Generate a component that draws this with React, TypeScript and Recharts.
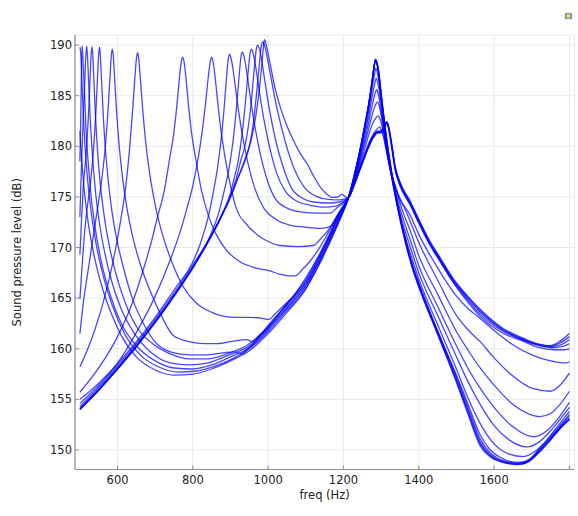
import React from 'react';
import { LineChart, Line, XAxis, YAxis, CartesianGrid } from 'recharts';

const xTicks = [600, 800, 1000, 1200, 1400, 1600, 1800];
const yTicks = [150, 155, 160, 165, 170, 175, 180, 185, 190];
const xDomain = [487, 1813];
const yDomain = [148.07, 191];

const c01 = [[500,181.5],[502,180.2],[505,178.6],[510,176.3],[520,173.0],[535,169.7],[555,166.6],[580,163.8],[610,161.3],[650,159.2],[700,157.9],[750,157.4],[800,157.5],[850,158.0],[900,158.8],[950,159.8],[1000,161.5],[1050,163.6],[1100,165.9],[1130,167.9],[1160,170.2],[1190,172.7],[1213,174.9],[1230,177.2],[1244,179.5],[1256,181.8],[1266,183.8],[1275,186.0],[1281,187.7],[1285,188.5],[1289,188.1],[1294,186.9],[1300,184.9],[1310,181.7],[1320,179.0],[1335,175.6],[1350,172.8],[1365,170.4],[1385,167.7],[1400,166.1],[1450,161.4],[1500,156.7],[1530,153.6],[1563,150.4],[1590,149.3],[1620,148.8],[1645,148.6],[1663,148.55],[1690,148.8],[1720,149.8],[1750,151.0],[1775,152.1],[1800,153.0]];
const c02 = [[500,189.8],[502,189.3],[505,186.9],[508,184.1],[512,181.1],[518,177.8],[528,174.1],[540,171.0],[560,167.5],[585,164.4],[620,161.4],[660,159.4],[710,158.2],[760,157.7],[810,157.8],[860,158.3],[910,159.1],[950,160.0],[1000,161.7],[1050,163.8],[1100,166.0],[1130,168.0],[1160,170.3],[1190,172.8],[1213,174.9],[1230,177.25],[1244,179.55],[1256,181.85],[1266,183.85],[1275,186.05],[1281,187.75],[1285,188.55],[1289,188.15],[1294,187.0],[1300,185.0],[1310,181.8],[1320,179.1],[1335,175.7],[1350,172.9],[1365,170.5],[1385,167.8],[1400,166.2],[1450,161.5],[1500,156.8],[1530,153.8],[1563,150.6],[1590,149.4],[1620,148.85],[1645,148.65],[1664,148.6],[1690,148.85],[1720,149.8],[1750,151.0],[1775,152.1],[1800,153.0]];
const c03 = [[500,178.5],[502,182.3],[504,186.8],[505.5,189.9],[507,189.4],[509,188.0],[512,185.6],[516,181.9],[522,178.4],[530,175.0],[542,171.6],[558,168.4],[580,165.4],[610,162.5],[650,160.3],[700,158.8],[750,158.1],[800,158.0],[850,158.4],[900,159.2],[950,160.1],[1000,161.9],[1050,164.0],[1100,166.2],[1130,168.2],[1160,170.5],[1190,172.9],[1213,174.9],[1230,177.3],[1244,179.6],[1256,181.9],[1266,183.9],[1275,186.1],[1281,187.8],[1285,188.6],[1289,188.2],[1294,187.1],[1300,185.1],[1310,181.9],[1320,179.2],[1335,175.8],[1350,173.0],[1365,170.6],[1385,167.9],[1400,166.3],[1450,161.6],[1500,157.0],[1530,154.0],[1563,150.8],[1590,149.5],[1620,148.9],[1645,148.7],[1665,148.65],[1690,148.9],[1720,149.9],[1750,151.1],[1775,152.2],[1800,153.1]];
const c04 = [[500,173.0],[503,176.8],[506,180.0],[509,183.1],[513,186.5],[516,189.1],[518,189.9],[520,189.1],[523,186.5],[527,183.1],[533,179.3],[541,175.7],[552,172.4],[566,169.5],[585,166.6],[610,163.9],[645,161.5],[690,159.6],[740,158.6],[790,158.4],[840,158.6],[890,159.3],[950,160.3],[1000,162.0],[1050,164.1],[1100,166.3],[1130,168.3],[1160,170.6],[1190,173.0],[1213,174.9],[1230,177.35],[1244,179.65],[1256,181.95],[1266,183.95],[1275,186.15],[1281,187.85],[1285,188.6],[1289,188.25],[1294,187.2],[1300,185.2],[1310,182.0],[1320,179.3],[1335,175.9],[1350,173.1],[1365,170.7],[1385,168.0],[1400,166.4],[1450,161.7],[1500,157.2],[1530,154.3],[1563,151.1],[1590,149.7],[1620,149.0],[1645,148.75],[1667,148.7],[1690,148.95],[1720,150.0],[1750,151.2],[1775,152.3],[1800,153.3]];
const c05 = [[500,169.3],[504,172.5],[509,176.0],[517,179.5],[523,183.3],[527,186.65],[530,189.15],[532,189.85],[534,189.15],[537,186.65],[541,183.3],[547,179.5],[555,176.0],[565,173.0],[578,170.2],[595,167.5],[620,164.6],[650,162.2],[690,160.6],[740,159.5],[790,159.0],[840,159.0],[890,159.5],[950,160.5],[1000,162.2],[1050,164.3],[1100,166.5],[1130,168.5],[1160,170.8],[1190,173.2],[1213,174.9],[1230,177.4],[1244,179.7],[1256,182.0],[1266,184.0],[1275,186.2],[1281,187.85],[1285,188.6],[1289,188.3],[1294,187.3],[1300,185.3],[1310,182.1],[1320,179.4],[1335,176.0],[1350,173.2],[1365,170.8],[1385,168.1],[1400,166.5],[1450,161.8],[1500,157.4],[1530,154.6],[1563,151.5],[1590,150.0],[1620,149.2],[1645,148.85],[1670,148.8],[1695,149.1],[1720,150.1],[1750,151.3],[1775,152.4],[1800,153.5]];
const c06 = [[500,164.9],[506,168.2],[512,171.3],[519,173.8],[529,176.7],[537,180.1],[543,183.8],[547,187.0],[550,189.2],[552,189.8],[554,189.2],[557,187.0],[561,183.8],[567,180.1],[575,176.7],[585,173.6],[598,170.8],[615,168.1],[640,164.9],[670,162.4],[704,160.5],[750,159.6],[792,159.4],[840,159.4],[881,159.6],[910,159.7],[930,159.5],[945,160.0],[970,160.9],[1000,162.3],[1050,164.4],[1100,166.6],[1130,168.6],[1160,170.9],[1190,173.3],[1213,174.9],[1230,177.0],[1244,179.2],[1256,181.4],[1266,183.3],[1275,185.4],[1282,187.0],[1286,187.7],[1290,187.3],[1296,185.8],[1303,183.6],[1312,180.8],[1322,178.2],[1337,175.2],[1352,172.6],[1377,169.5],[1400,166.9],[1450,162.4],[1500,158.0],[1530,155.2],[1563,152.6],[1600,150.6],[1640,149.6],[1678,149.35],[1710,149.9],[1740,151.0],[1770,152.4],[1800,153.8]];
const c07 = [[500,161.5],[510,164.8],[520,167.3],[535,171.0],[547,173.9],[559,177.0],[568,180.2],[575,183.7],[580,186.9],[583.5,189.0],[586,189.6],[588.5,189.0],[592,186.9],[597,183.7],[604,180.2],[613,177.0],[625,173.9],[640,171.1],[660,168.4],[690,165.4],[720,163.0],[748,161.3],[790,160.7],[830,160.5],[863,160.5],[900,160.7],[943,160.9],[957,160.7],[975,161.2],[1000,162.1],[1050,164.5],[1100,166.8],[1130,168.8],[1160,171.0],[1190,173.4],[1213,174.9],[1230,176.9],[1244,179.0],[1256,181.0],[1266,182.8],[1275,184.7],[1282,186.0],[1287,186.7],[1291,186.3],[1297,184.9],[1305,182.6],[1314,180.0],[1325,177.6],[1340,174.9],[1355,172.7],[1377,170.1],[1400,167.5],[1450,163.3],[1500,159.2],[1530,156.8],[1563,154.5],[1600,152.4],[1640,151.0],[1687,150.3],[1720,150.8],[1750,151.9],[1775,153.0],[1800,154.2]];
const c08 = [[500,158.2],[520,159.9],[540,161.9],[565,165.0],[585,168.1],[600,170.9],[611,173.3],[622,176.1],[632,179.8],[640,183.5],[646,186.8],[650,188.6],[653,189.25],[656,188.75],[660,187.0],[666,184.0],[674,180.7],[685,177.4],[700,174.2],[720,171.2],[745,168.5],[775,166.1],[810,164.5],[850,163.6],[872,163.3],[910,163.1],[952,163.1],[985,163.0],[1001,162.9],[1020,163.5],[1045,164.4],[1067,165.2],[1100,167.0],[1130,168.9],[1160,171.1],[1190,173.4],[1213,174.9],[1230,176.8],[1244,178.8],[1256,180.6],[1266,182.2],[1276,184.0],[1283,185.1],[1288,185.6],[1292,185.2],[1298,184.0],[1306,181.9],[1315,179.6],[1327,177.2],[1342,174.9],[1357,173.0],[1377,170.8],[1400,168.2],[1450,164.2],[1500,160.3],[1530,158.1],[1563,156.1],[1600,154.2],[1650,152.3],[1705,151.3],[1740,151.9],[1770,153.1],[1800,154.7]];
const c09 = [[500,155.7],[550,158.1],[600,161.2],[640,164.6],[670,168.0],[690,170.6],[706,173.0],[724,175.6],[738,178.7],[749,181.2],[758,184.2],[765,187.0],[770,188.5],[773,188.8],[776,188.5],[781,187.0],[788,184.2],[797,181.2],[808,178.7],[822,175.8],[840,173.3],[862,171.3],[890,169.7],[925,168.6],[965,168.0],[1005,167.7],[1032,167.35],[1055,167.2],[1072,167.2],[1090,167.8],[1110,168.6],[1135,169.9],[1160,171.5],[1190,173.5],[1213,174.9],[1230,176.7],[1244,178.5],[1256,180.2],[1266,181.6],[1277,183.2],[1285,184.1],[1290,184.4],[1294,184.1],[1300,183.1],[1308,181.3],[1318,179.0],[1330,177.0],[1345,175.0],[1360,173.3],[1377,171.7],[1400,169.2],[1450,165.4],[1500,161.7],[1530,159.9],[1563,158.1],[1600,156.4],[1650,154.5],[1690,153.6],[1722,153.3],[1750,153.6],[1775,154.5],[1800,155.8]];
const c10 = [[500,155.0],[550,156.6],[600,158.6],[650,161.6],[700,165.2],[740,168.8],[765,171.4],[783,173.7],[801,176.3],[815,179.0],[826,181.8],[835,184.7],[842,187.2],[847,188.5],[850,188.8],[853,188.5],[858,187.2],[865,184.7],[874,181.8],[885,179.0],[899,176.3],[917,173.7],[940,172.4],[970,171.3],[1000,170.6],[1032,170.2],[1080,170.1],[1120,170.2],[1140,170.9],[1165,172.0],[1190,173.6],[1213,174.9],[1230,176.5],[1244,178.2],[1256,179.7],[1266,181.0],[1277,182.2],[1286,182.8],[1292,183.0],[1297,182.7],[1303,181.9],[1311,180.3],[1321,178.4],[1333,176.6],[1348,174.9],[1362,173.9],[1377,172.6],[1400,170.5],[1450,166.8],[1500,163.3],[1530,161.9],[1563,160.7],[1600,159.1],[1650,157.3],[1700,156.1],[1749,155.8],[1775,156.4],[1800,157.6]];
const c11 = [[500,154.6],[550,156.4],[600,158.5],[650,160.7],[700,163.1],[750,165.8],[800,168.6],[820,170.4],[840,172.9],[855,175.6],[866,178.0],[874,180.3],[882,183.3],[889,186.6],[894,188.6],[897,189.1],[900,188.9],[905,188.0],[912,186.1],[921,183.6],[932,181.0],[946,178.4],[964,175.9],[990,173.8],[1020,172.8],[1060,172.2],[1103,172.0],[1140,171.9],[1165,172.1],[1185,173.2],[1200,174.1],[1213,174.9],[1230,176.4],[1244,177.9],[1256,179.2],[1267,180.3],[1279,181.2],[1289,181.7],[1296,181.9],[1301,181.6],[1307,180.8],[1315,179.3],[1325,177.6],[1337,176.1],[1352,174.7],[1377,173.2],[1400,171.3],[1450,168.0],[1500,165.2],[1530,164.0],[1563,163.0],[1600,161.8],[1650,160.4],[1700,159.4],[1750,158.8],[1790,158.6],[1800,158.7]];
const c12 = [[500,154.3],[550,156.2],[600,158.3],[650,160.5],[700,162.9],[750,165.5],[800,168.3],[850,171.5],[870,173.6],[882,175.4],[896,177.8],[907,180.6],[916,183.9],[923,187.0],[928,188.9],[931,189.3],[934,189.15],[939,188.3],[946,186.6],[955,184.2],[966,181.7],[980,179.1],[998,176.6],[1021,174.7],[1050,173.9],[1090,173.5],[1130,173.4],[1165,173.4],[1185,174.0],[1200,174.4],[1213,174.9],[1230,176.3],[1244,177.7],[1256,178.9],[1268,180.0],[1280,180.9],[1290,181.3],[1297,181.3],[1304,181.5],[1310,182.0],[1315,182.2],[1320,181.7],[1328,179.9],[1337,177.7],[1350,176.1],[1377,174.2],[1400,172.4],[1430,170.2],[1450,169.0],[1492,166.5],[1530,164.6],[1563,163.2],[1620,161.6],[1680,160.7],[1720,160.1],[1760,159.9],[1785,159.9],[1800,160.0]];
const c13 = [[500,154.1],[550,156.0],[600,158.1],[650,160.3],[700,162.7],[750,165.3],[800,168.1],[850,171.3],[880,173.5],[900,175.4],[910,176.9],[920,178.5],[931,181.3],[940,184.5],[947,187.4],[952,189.2],[955,189.6],[958,189.45],[963,188.7],[970,187.1],[979,184.85],[990,182.4],[1004,179.9],[1022,177.4],[1045,175.6],[1075,174.6],[1110,174.2],[1150,174.0],[1180,174.1],[1200,174.5],[1213,174.9],[1230,176.35],[1244,177.75],[1256,178.95],[1268,180.05],[1280,180.95],[1290,181.35],[1297,181.35],[1304,181.55],[1310,182.1],[1315,182.3],[1320,181.8],[1328,180.0],[1337,177.8],[1350,176.2],[1377,174.3],[1400,172.5],[1430,170.3],[1450,169.1],[1492,166.6],[1530,164.8],[1563,163.4],[1620,161.8],[1680,160.8],[1720,160.3],[1755,160.1],[1780,160.2],[1800,160.5]];
const c14 = [[500,154.05],[550,155.95],[600,158.05],[650,160.25],[700,162.65],[750,165.25],[800,168.05],[850,171.25],[880,173.4],[900,175.1],[915,176.8],[928,178.7],[938,180.0],[947.5,182.0],[956.5,184.9],[963.5,187.85],[968.5,189.6],[971.5,190.0],[974.5,189.87],[979.5,189.2],[986.5,187.6],[995.5,185.4],[1006.5,183.0],[1020.5,180.5],[1038.5,178.1],[1061.5,175.9],[1090,174.9],[1120,174.5],[1160,174.4],[1190,174.5],[1213,174.9],[1230,176.4],[1244,177.8],[1256,179.0],[1268,180.1],[1280,181.0],[1290,181.4],[1297,181.4],[1304,181.6],[1310,182.15],[1315,182.35],[1320,181.85],[1328,180.1],[1337,177.9],[1350,176.3],[1377,174.4],[1400,172.6],[1430,170.4],[1450,169.2],[1492,166.7],[1530,164.95],[1563,163.6],[1620,161.9],[1680,160.85],[1720,160.35],[1752,160.2],[1778,160.4],[1800,160.9]];
const c15 = [[500,154.0],[550,155.9],[600,158.0],[650,160.2],[700,162.6],[750,165.2],[800,168.0],[850,171.2],[880,173.4],[900,175.0],[920,176.9],[936,178.3],[950,180.0],[961,182.4],[970,185.5],[977,188.3],[982,189.96],[985,190.3],[988,190.2],[993,189.6],[1000,188.3],[1010,186.3],[1022,184.0],[1036,181.8],[1052,179.6],[1070,177.7],[1095,176.0],[1125,175.1],[1160,174.75],[1190,174.7],[1213,174.9],[1230,176.45],[1244,177.85],[1256,179.05],[1268,180.15],[1280,181.05],[1290,181.45],[1297,181.45],[1304,181.65],[1310,182.2],[1315,182.4],[1320,181.9],[1328,180.2],[1337,178.0],[1350,176.4],[1377,174.5],[1400,172.7],[1430,170.5],[1450,169.3],[1492,166.8],[1530,165.1],[1563,163.75],[1620,162.0],[1680,160.9],[1720,160.4],[1750,160.25],[1776,160.6],[1800,161.2]];
const c16 = [[500,154.0],[550,155.9],[600,158.0],[650,160.2],[700,162.6],[750,165.2],[800,168.0],[850,171.2],[880,173.4],[900,175.0],[920,176.9],[940,178.9],[956,180.8],[968,183.2],[977,185.8],[984,188.4],[988,190.0],[990,190.55],[993,190.3],[998,189.5],[1005,188.2],[1015,186.3],[1032,183.9],[1050,182.0],[1067,180.6],[1085,179.3],[1103,178.3],[1120,177.1],[1138,176.0],[1155,175.3],[1173,174.95],[1185,175.0],[1196,175.25],[1204,175.05],[1213,174.9],[1230,176.5],[1244,177.9],[1256,179.1],[1268,180.2],[1280,181.1],[1290,181.5],[1297,181.5],[1304,181.7],[1310,182.25],[1315,182.45],[1320,181.95],[1328,180.3],[1337,178.1],[1350,176.5],[1377,174.6],[1400,172.8],[1430,170.6],[1450,169.4],[1492,166.9],[1530,165.2],[1563,163.9],[1620,162.1],[1680,161.0],[1720,160.45],[1748,160.3],[1775,160.75],[1800,161.5]];

const curves = [c01, c02, c03, c04, c05, c06, c07, c08, c09, c10, c11, c12, c13, c14, c15, c16];
const series = curves.map((c) => c.map(([f, v]) => ({ f, v })));

const FONT = 'DejaVu Sans';
const FRAME = '#8f8f8f';
const TEXT = '#222';

const YTitle = (props: any) => {
  const vb = props.viewBox || { x: 15, y: 35, width: 60, height: 434.5 };
  const cx = vb.x + 1.5;
  const cy = vb.y + vb.height / 2;
  return (
    <text x={cx} y={cy} transform={`rotate(-90 ${cx} ${cy})`} textAnchor="middle" dominantBaseline="central"
      fill={TEXT} fontSize={11.5} fontFamily={FONT}>
      Sound pressure level (dB)
    </text>
  );
};

const XTitle = (props: any) => {
  const vb = props.viewBox || { x: 75, y: 469.5, width: 499, height: 30 };
  const cx = vb.x + vb.width / 2;
  const cy = vb.y + 25.5;
  return (
    <text x={cx} y={cy} textAnchor="middle" dominantBaseline="central" fill={TEXT} fontSize={11.5} fontFamily={FONT}>
      freq (Hz)
    </text>
  );
};

export default function App() {
  return (
    <div style={{ position: 'absolute', left: 0, top: 0, width: 578, height: 516, background: '#fff' }}>
      <div style={{ position: 'absolute', left: 565, top: 13, width: 7, height: 6, borderRadius: 1.5,
        background: 'radial-gradient(circle, #f3d64a 0%, #f3d64a 30%, #3f7fd8 75%)', boxShadow: '0 0 1px #789' }} />
      <LineChart width={578} height={516} margin={{ top: 35, right: 3.7, bottom: 16.5, left: 15 }}
        style={{ fontFamily: FONT }}>
        <CartesianGrid stroke="#e8e8e8" strokeWidth={1} />
        <XAxis type="number" dataKey="f" domain={xDomain} allowDataOverflow ticks={xTicks} interval={0}
          tickFormatter={(v: number) => (v === 1800 ? '' : String(v))}
          tickSize={-4} tickMargin={10.5} height={30}
          axisLine={{ stroke: FRAME, strokeWidth: 1.2 }} tickLine={{ stroke: FRAME }}
          tick={{ fill: TEXT, fontSize: 11.5, fontFamily: FONT }} label={<XTitle />} />
        <XAxis xAxisId="top" orientation="top" type="number" dataKey="f" domain={xDomain} allowDataOverflow
          ticks={xTicks} interval={0} tick={false} tickSize={-4} height={0}
          axisLine={{ stroke: FRAME, strokeWidth: 1.2 }} tickLine={{ stroke: FRAME }} />
        <YAxis type="number" domain={yDomain} allowDataOverflow ticks={yTicks} interval={0}
          tickSize={-4} tickMargin={7} width={60}
          axisLine={{ stroke: FRAME, strokeWidth: 1.2 }} tickLine={{ stroke: FRAME }}
          tick={{ fill: TEXT, fontSize: 11.5, fontFamily: FONT }} label={<YTitle />} />
        <YAxis yAxisId="right" orientation="right" type="number" domain={yDomain} allowDataOverflow
          ticks={yTicks} interval={0} tick={false} tickSize={-4} width={0}
          axisLine={{ stroke: FRAME, strokeWidth: 1.2 }} tickLine={{ stroke: FRAME }} />
        {series.map((d, i) => (
          <Line key={i} data={d} dataKey="v" type="monotone" stroke="#0000ff" strokeOpacity={0.72}
            strokeWidth={1.3} dot={false} activeDot={false} isAnimationActive={false} />
        ))}
      </LineChart>
    </div>
  );
}
